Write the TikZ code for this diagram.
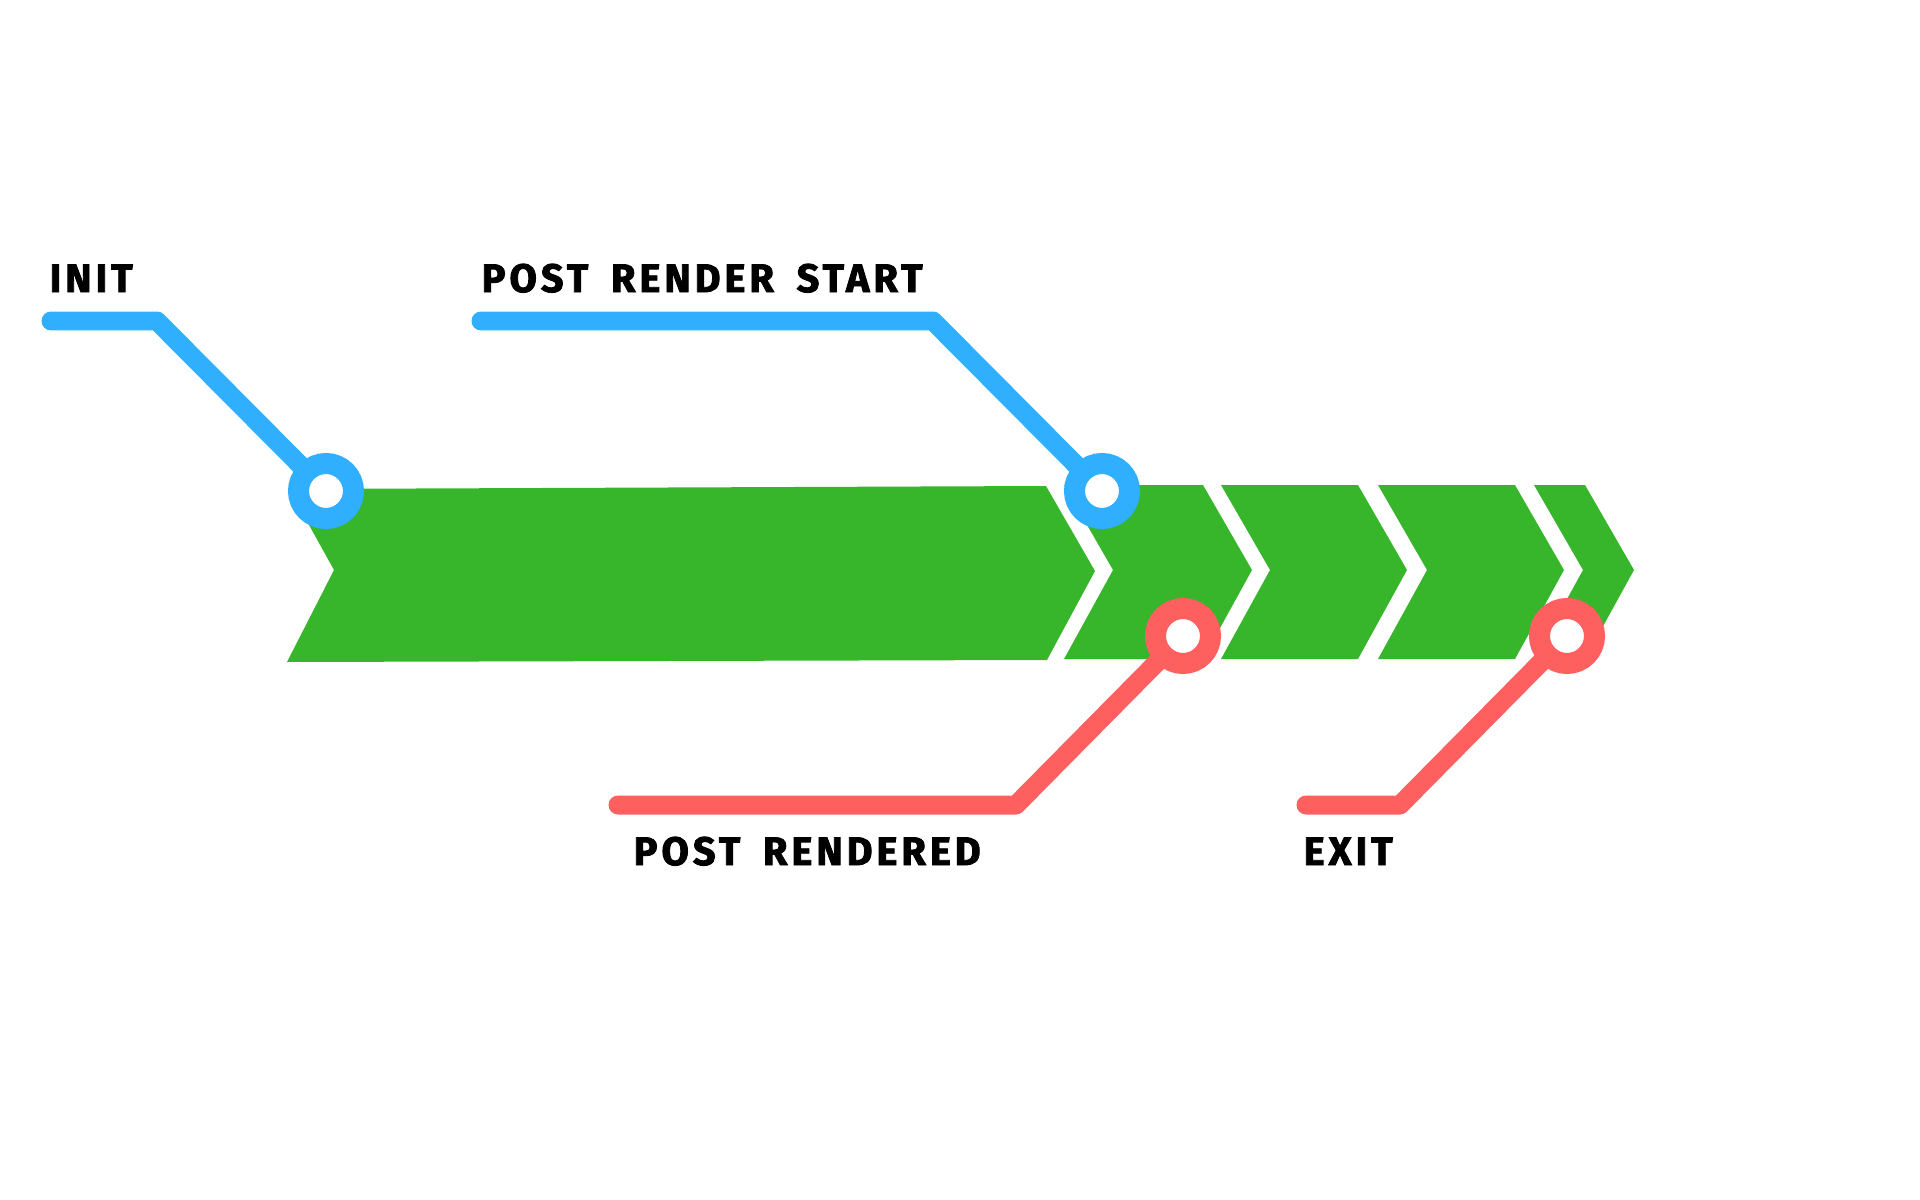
\documentclass[tikz,border=0pt]{standalone}
\usepackage{fontspec}
\usetikzlibrary{backgrounds}
\newfontfamily\tagfont[LetterSpace=10, WordSpace=1.7,
  BoldFeatures={FakeBold=2}]{Fira Sans}
\definecolor{flowgreen}{HTML}{37B52B}
\definecolor{hookblue}{HTML}{2FAFFE}
\definecolor{hookred}{HTML}{FE5F5F}
\tikzset{
  hookline/.style={line width=5.4pt, line cap=round, line join=round},
  station/.style={circle, draw=#1, fill=white, line width=5.97pt,
                  minimum size=0.55cm, inner sep=0pt},
  tag/.style={anchor=base west, inner sep=0pt,
              font=\tagfont\bfseries\fontsize{11.3pt}{13pt}\selectfont},
}
\begin{document}
\begin{tikzpicture}[x=0.01cm,y=-0.01cm]
\useasboundingbox (0,0) rectangle (1920,1200);
% hook points on the flow
\node[station=hookblue] (init hook)     at (326,491)  {};
\node[station=hookblue] (start hook)    at (1102,491) {};
\node[station=hookred]  (rendered hook) at (1183,636) {};
\node[station=hookred]  (exit hook)     at (1567,636) {};
% labels
\node[tag] (init tag)     at (49,292)   {INIT};
\node[tag] (start tag)    at (481,292)  {POST RENDER START};
\node[tag] (rendered tag) at (633,865)  {POST RENDERED};
\node[tag] (exit tag)     at (1303,865) {EXIT};
% line ends and bends
\coordinate (init end)     at (51,321);
\coordinate (init bend)    at (157,321);
\coordinate (start end)    at (481,321);
\coordinate (start bend)   at (933,321);
\coordinate (rendered end) at (618,805);
\coordinate (rendered bend) at (1016,805);
\coordinate (exit end)     at (1306,805);
\coordinate (exit bend)    at (1400,805);
\begin{pgfonlayer}{background}
  % the flow
  \fill[flowgreen] (289,489) -- (334,570) -- (287,662) -- (1047,660)
                   -- (1095,571) -- (1046,486) -- cycle;
  \foreach \a/\b in {1064/1203, 1221/1358, 1378/1515, 1534/1585}
    \fill[flowgreen] (\a,485) -- ({\a+49},570) -- (\a,659) -- (\b,659)
                     -- ({\b+49},570) -- (\b,485) -- cycle;
  % hooks
  \draw[hookline, hookblue] (init end) -- (init bend) -- (init hook.center);
  \draw[hookline, hookblue] (start end) -- (start bend) -- (start hook.center);
  \draw[hookline, hookred] (rendered end) -- (rendered bend) -- (rendered hook.center);
  \draw[hookline, hookred] (exit end) -- (exit bend) -- (exit hook.center);
\end{pgfonlayer}
\end{tikzpicture}
\end{document}
